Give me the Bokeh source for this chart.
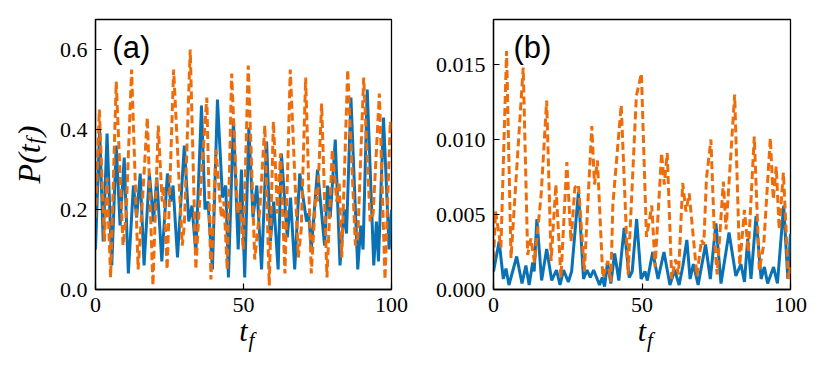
from bokeh.plotting import figure
from bokeh.layouts import row
from bokeh.models import Label, Range1d, FixedTicker, CustomJSTickFormatter, LinearAxis
from bokeh.embed import file_html
from bokeh.resources import INLINE

# ---------------- data ----------------
# panel (a): blue solid
a_blue_t = [0, 1.4, 2.6, 3.9, 5.5, 7.0, 8.3, 9.7, 11.1, 12.8, 13.9, 15.1, 16.4, 18.2, 19.6, 20.7,
            22.4, 24.3, 25.4, 26.2, 27.7, 30.0, 31.5, 32.6, 33.9, 35.8, 37.0, 38.0, 39.5, 41.2,
            42.9, 44.0, 44.9, 46.6, 48.2, 49.3, 50.4, 51.8, 53.2, 54.5, 56.1, 57.8, 59.1, 60.2,
            61.7, 62.8, 64.8, 65.9, 67.3, 69.0, 71.3, 72.0, 72.9, 75.0, 77.4, 78.4, 79.3, 81.0,
            82.6, 84.0, 84.8, 86.3, 88.6, 89.6, 90.4, 91.8, 94.0, 94.9, 95.6, 97.3, 99.2, 100]
a_blue_v = [0.10, 0.40, 0.12, 0.39, 0.06, 0.36, 0.16, 0.33, 0.04, 0.26, 0.18, 0.29, 0.06, 0.29, 0.17, 0.28,
            0.07, 0.29, 0.22, 0.26, 0.08, 0.36, 0.17, 0.21, 0.09, 0.46, 0.20, 0.22, 0.05, 0.475,
            0.23, 0.26, 0.03, 0.425, 0.10, 0.30, 0.03, 0.405, 0.18, 0.26, 0.05, 0.37, 0.12, 0.22,
            0.05, 0.34, 0.13, 0.23, 0.05, 0.29, 0.17, 0.19, 0.10, 0.30, 0.11, 0.26, 0.18, 0.375,
            0.06, 0.20, 0.14, 0.48, 0.05, 0.16, 0.10, 0.50, 0.06, 0.17, 0.07, 0.43, 0.10, 0.20]

# panel (a): orange dashed
a_orange_t = [0, 1.3, 3.0, 3.9, 5.1, 7.0, 9.3, 10.3, 12.2, 14.4, 16.0, 17.5, 19.4, 21.2, 22.5, 23.0,
              24.2, 26.4, 29.3, 30.0, 32.0, 33.9, 35.0, 37.6, 39.0, 40.7, 42.5, 43.4, 44.5, 46.0,
              48.0, 48.8, 49.9, 51.6, 53.8, 55.5, 57.2, 58.7, 60.1, 61.5, 62.5, 64.0, 65.8, 68.5,
              69.5, 71.0, 72.9, 74.5, 75.0, 76.4, 78.2, 80.0, 81.5, 82.3, 83.2, 85.2, 87.8, 88.6,
              90.6, 92.8, 93.8, 95.9, 97.8, 99.6, 100]
a_orange_v = [0.18, 0.45, 0.12, 0.28, 0.03, 0.52, 0.11, 0.18, 0.55, 0.05, 0.24, 0.43, 0.01, 0.41, 0.22, 0.26,
              0.05, 0.55, 0.11, 0.16, 0.60, 0.05, 0.20, 0.48, 0.025, 0.35, 0.18, 0.22, 0.05, 0.54,
              0.19, 0.22, 0.10, 0.56, 0.075, 0.20, 0.41, 0.01, 0.42, 0.19, 0.34, 0.04, 0.55, 0.08,
              0.15, 0.53, 0.04, 0.25, 0.22, 0.465, 0.03, 0.35, 0.22, 0.27, 0.08, 0.55, 0.11, 0.13,
              0.53, 0.17, 0.19, 0.49, 0.025, 0.42, 0.40]

# panel (b): blue solid
b_blue_t = [0, 1.9, 3.3, 4.2, 5.2, 7.8, 9.6, 10.9, 12.0, 13.2, 13.7, 14.6, 16.2, 17.9, 19.6, 21.2,
            22.4, 23.6, 25.2, 26.3, 28.6, 30.3, 31.5, 32.6, 33.7, 35.7, 36.6, 37.4, 38.4, 39.5,
            40.8, 42.2, 44.0, 45.7, 46.7, 48.2, 49.7, 51.0, 51.8, 53.6, 55.4, 57.4, 59.4, 61.0,
            62.5, 63.7, 65.1, 66.2, 67.3, 68.9, 71.4, 73.0, 74.9, 76.6, 79.3, 81.6, 83.3, 84.5,
            85.6, 86.7, 88.4, 90.1, 91.2, 92.3, 94.3, 95.6, 97.7, 99.1, 100]
b_blue_v = [0.0012, 0.0032, 0.0007, 0.0014, 0.0003, 0.0022, 0.0004, 0.0016, 0.0003, 0.0018, 0.0012, 0.0047,
            0.0006, 0.0027, 0.0006, 0.0013, 0.0003, 0.0013, 0.0005, 0.0012, 0.0065, 0.0007, 0.0013, 0.0008,
            0.0013, 0.0003, 0.0008, 0.0002, 0.0018, 0.0004, 0.0024, 0.0006, 0.0041, 0.0008, 0.0012, 0.0047,
            0.0007, 0.0012, 0.0006, 0.0025, 0.0007, 0.0025, 0.0003, 0.0013, 0.0003, 0.0015, 0.0033, 0.0007,
            0.0017, 0.0003, 0.0030, 0.0007, 0.0044, 0.0004, 0.0038, 0.0009, 0.0017, 0.0005, 0.0034, 0.0007,
            0.0049, 0.0007, 0.0015, 0.0004, 0.0015, 0.0004, 0.0056, 0.0007, 0.0037]

# panel (b): orange dashed
b_orange_t = [0, 0.7, 2.5, 4.4, 5.9, 10.0, 11.5, 12.6, 13.8, 16.0, 17.9, 19.4, 21.0, 22.7, 24.7, 26.1,
              27.4, 28.6, 30.6, 33.1, 34.0, 35.0, 36.8, 38.5, 39.5, 40.2, 43.0, 45.3, 48.1, 49.8,
              51.5, 52.4, 53.3, 54.4, 56.6, 57.5, 58.5, 60.0, 61.3, 62.3, 63.7, 64.8, 65.9, 68.5,
              70.0, 70.8, 71.7, 73.2, 74.5, 75.3, 77.4, 78.3, 81.2, 82.9, 84.5, 85.8, 87.8, 89.5,
              91.0, 93.2, 94.2, 95.2, 96.2, 97.6, 99.3, 100]
b_orange_v = [0.0020, 0.0052, 0.0028, 0.0159, 0.0021, 0.0148, 0.0023, 0.0034, 0.0018, 0.0062, 0.0126, 0.0019,
              0.0070, 0.0008, 0.0085, 0.0032, 0.0068, 0.0070, 0.0012, 0.0109, 0.0070, 0.0086, 0.0008, 0.0019,
              0.0005, 0.0057, 0.0123, 0.0010, 0.0129, 0.0144, 0.0035, 0.0045, 0.0056, 0.0015, 0.0091, 0.0070,
              0.0091, 0.0007, 0.0020, 0.0010, 0.0071, 0.0052, 0.0064, 0.0009, 0.0033, 0.0030, 0.0074, 0.0100,
              0.0030, 0.0010, 0.0072, 0.0040, 0.0130, 0.0016, 0.0053, 0.0025, 0.0102, 0.0013, 0.0030, 0.0101,
              0.0060, 0.0082, 0.0040, 0.0078, 0.0007, 0.0015]

x_ticks = [0, 50, 100]
a_y_ticks = [0.0, 0.2, 0.4, 0.6]
b_y_ticks = [0.0, 0.005, 0.010, 0.015]
panel_tags = ["(a)", "(b)"]

# ---------------- styling ----------------
BLUE = "#0a72b4"
ORANGE = "#ef6c0a"
SERIF = "Liberation Serif"
TICK_SIZE = "22px"
NBSP = "\u00a0"


def style_label_axis(ax):
    ax.ticker = FixedTicker(ticks=[])
    ax.axis_line_color = None
    ax.major_tick_line_color = None
    ax.minor_tick_line_color = None
    ax.major_label_text_font_size = "0px"
    ax.axis_label_text_color = "black"


def make_panel(tb, vb, to, vo, ymax, yticks, ydigits, tag, tag_x, width, left, right, ylab):
    p = figure(width=width, height=369, output_backend="svg", toolbar_location=None,
               x_range=Range1d(0, 100), y_range=Range1d(0, ymax),
               min_border_left=left, min_border_right=right, min_border_top=19, min_border_bottom=80)
    p.grid.visible = False
    p.outline_line_color = "black"
    p.outline_line_width = 1.3
    p.background_fill_color = "white"
    p.border_fill_color = "white"

    p.line(tb, vb, line_color=BLUE, line_width=3)
    p.line(to, vo, line_color=ORANGE, line_width=3, line_dash="8 4")

    for ax in (p.xaxis[0], p.yaxis[0]):
        ax.major_tick_in = 6
        ax.major_tick_out = 0
        ax.minor_tick_line_color = None
        ax.axis_line_width = 1.3
        ax.major_tick_line_width = 1.2
        ax.major_label_text_font = SERIF
        ax.major_label_text_font_size = TICK_SIZE
        ax.major_label_text_color = "black"
        ax.major_label_standoff = 8
        ax.axis_label_text_color = "black"
    p.xaxis.ticker = FixedTicker(ticks=x_ticks)
    p.yaxis.ticker = FixedTicker(ticks=yticks)
    p.yaxis.formatter = CustomJSTickFormatter(code=f"return tick.toFixed({ydigits});")

    p.add_layout(Label(x=tag_x, y=ymax * 0.96, text=tag, text_font="Liberation Sans",
                       text_font_size="31px", text_baseline="top", text_color="black"))

    # x axis label: t with subscript f
    xa = p.xaxis[0]
    xa.axis_label = "t"
    xa.axis_label_text_font = SERIF
    xa.axis_label_text_font_style = "italic"
    xa.axis_label_text_font_size = "30px"
    xa.axis_label_standoff = -1
    sub_x = LinearAxis()
    style_label_axis(sub_x)
    sub_x.axis_label = NBSP * 3 + "f"
    sub_x.axis_label_text_font = SERIF
    sub_x.axis_label_text_font_style = "italic"
    sub_x.axis_label_text_font_size = "21px"
    sub_x.axis_label_standoff = -22
    p.add_layout(sub_x, "below")

    if ylab:
        ya = p.yaxis[0]
        ya.axis_label = "P(t" + NBSP + ")"
        ya.axis_label_text_font = SERIF
        ya.axis_label_text_font_style = "italic"
        ya.axis_label_text_font_size = "32px"
        ya.axis_label_standoff = 10
        sub_y = LinearAxis()
        style_label_axis(sub_y)
        sub_y.axis_label = NBSP * 5 + "f"
        sub_y.axis_label_text_font = SERIF
        sub_y.axis_label_text_font_style = "italic"
        sub_y.axis_label_text_font_size = "22px"
        sub_y.axis_label_standoff = -38
        p.add_layout(sub_y, "left")
    return p


pa = make_panel(a_blue_t, a_blue_v, a_orange_t, a_orange_v, 0.675, a_y_ticks, 1, panel_tags[0], 5.7,
                431, 95, 40, True)
pb = make_panel(b_blue_t, b_blue_v, b_orange_t, b_orange_v, 0.018, b_y_ticks, 3, panel_tags[1], 6.7,
                389, 62, 30, False)

layout = row(pa, pb)
open("out.html", "w").write(file_html(layout, INLINE))
